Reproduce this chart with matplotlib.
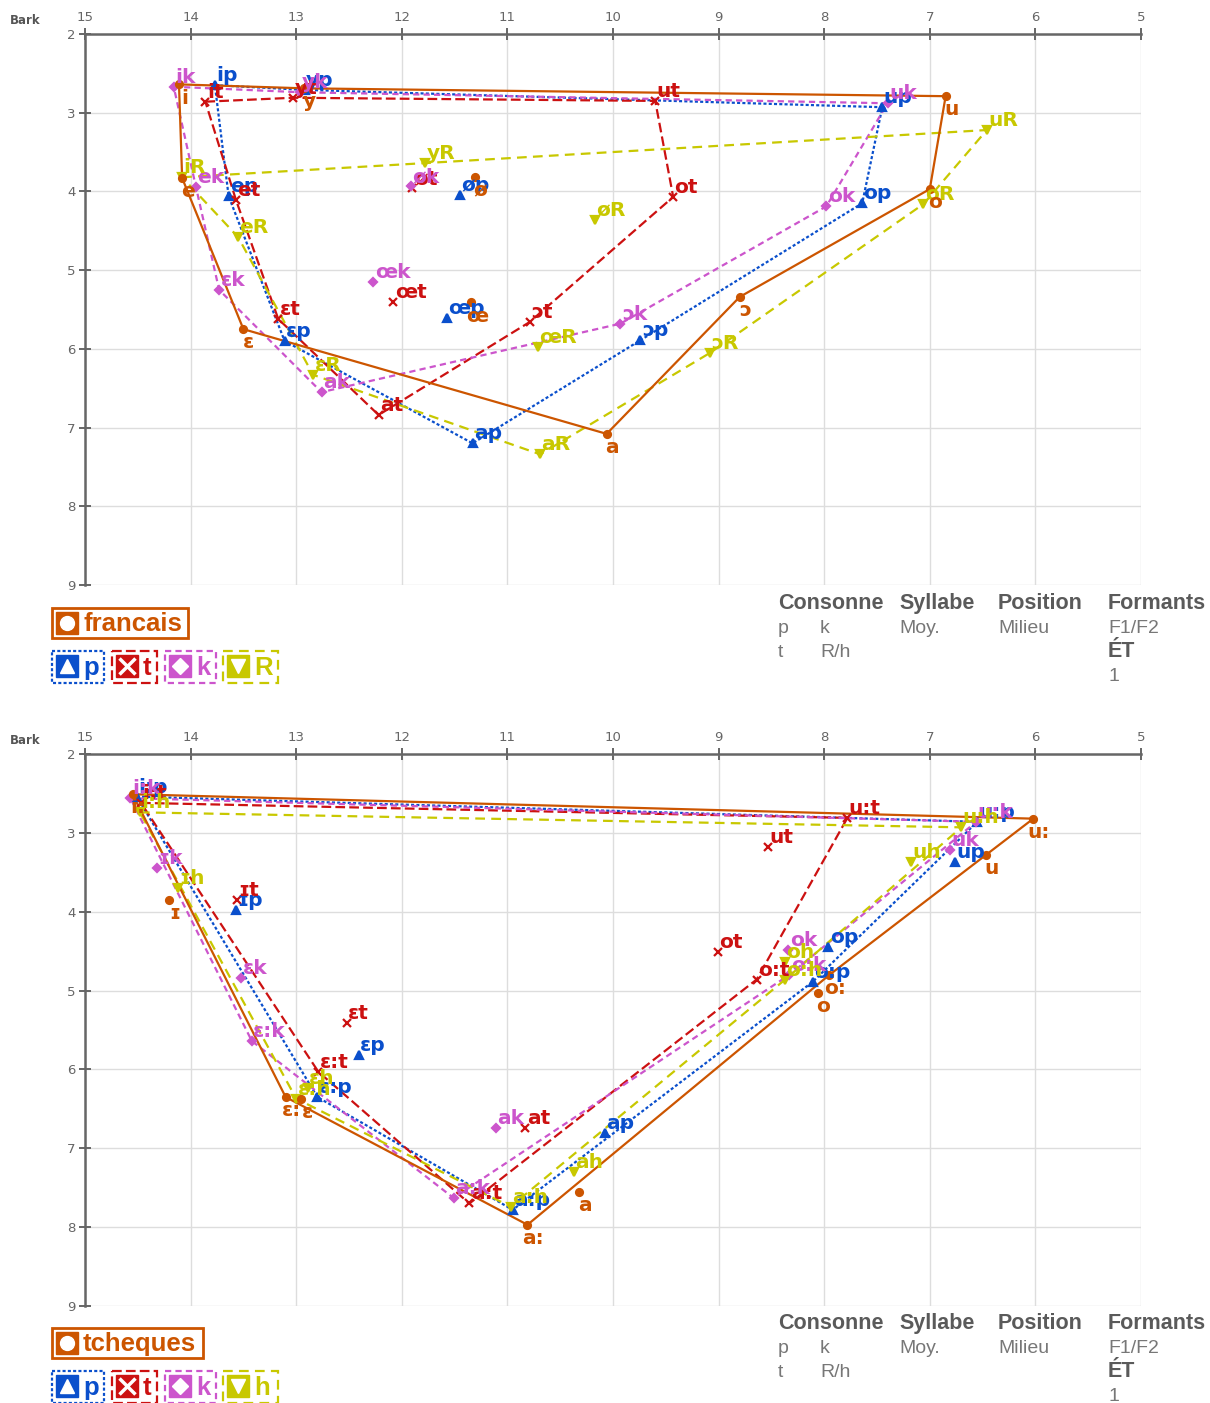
import matplotlib.pyplot as plt
from matplotlib.patches import Rectangle

plt.rcParams['font.family'] = ['DejaVu Sans']
plt.rcParams['lines.scale_dashes'] = False

# ---------- francais (F2 in Bark, F1 in Bark) ----------
fr_vowels = ['i', 'y', 'u', 'e', 'ø', 'o', 'ɛ', 'œ', 'ɔ', 'a']
fr_hull = ['i', 'y', 'u', 'o', 'ɔ', 'a', 'ɛ', 'e', 'i']

fr_f2 = [14.11, 12.93, 6.85, 14.08, 11.31, 7.00, 13.50, 11.34, 8.80, 10.06]
fr_f1 = [2.64, 2.69, 2.79, 3.83, 3.82, 3.97, 5.75, 5.41, 5.34, 7.08]
fr_p_f2 = [13.77, 12.92, 7.45, 13.64, 11.45, 7.64, 13.11, 11.57, 9.74, 11.33]
fr_p_f1 = [2.65, 2.71, 2.93, 4.06, 4.05, 4.15, 5.90, 5.61, 5.89, 7.20]
fr_t_f2 = [13.86, 13.03, 9.60, 13.57, 11.90, 9.43, 13.17, 12.08, 10.79, 12.22]
fr_t_f1 = [2.86, 2.81, 2.85, 4.11, 3.96, 4.07, 5.62, 5.41, 5.66, 6.84]
fr_k_f2 = [14.16, 12.96, 7.40, 13.95, 11.91, 7.98, 13.73, 12.27, 9.93, 12.76]
fr_k_f1 = [2.67, 2.74, 2.88, 3.94, 3.93, 4.19, 5.25, 5.15, 5.68, 6.55]
fr_R_f2 = [14.08, 11.78, 6.46, 13.55, 10.17, 7.06, 12.84, 10.71, 9.08, 10.69]
fr_R_f1 = [3.82, 3.64, 3.22, 4.58, 4.36, 4.16, 6.33, 5.98, 6.05, 7.34]

# ---------- tcheques ----------
cz_vowels = ['i:', 'ɪ', 'ɛ', 'ɛ:', 'a', 'a:', 'o', 'o:', 'u', 'u:']
cz_hull = ['i:', 'u:', 'o:', 'a:', 'ɛ:', 'i:']

cz_f2 = [14.55, 14.20, 12.95, 13.10, 10.32, 10.81, 8.06, 7.95, 6.47, 6.02]
cz_f1 = [2.51, 3.85, 6.37, 6.35, 7.55, 7.97, 5.03, 4.80, 3.28, 2.82]
cz_p_f2 = [14.51, 13.57, 12.41, 12.80, 10.08, 10.95, 7.96, 8.11, 6.76, 6.55]
cz_p_f1 = [2.54, 3.98, 5.82, 6.35, 6.80, 7.78, 4.45, 4.89, 3.37, 2.86]
cz_t_f2 = [14.47, 13.56, 12.52, 12.79, 10.83, 11.36, 9.01, 8.64, 8.53, 7.78]
cz_t_f1 = [2.62, 3.85, 5.41, 6.03, 6.74, 7.70, 4.51, 4.86, 3.18, 2.81]
cz_k_f2 = [14.57, 14.32, 13.52, 13.42, 11.11, 11.51, 8.34, 8.33, 6.81, 6.56]
cz_k_f1 = [2.56, 3.44, 4.84, 5.64, 6.74, 7.63, 4.49, 4.80, 3.22, 2.86]
cz_h_f2 = [14.48, 14.12, 12.89, 13.00, 10.37, 10.97, 8.37, 8.37, 7.18, 6.70]
cz_h_f1 = [2.74, 3.70, 6.23, 6.37, 7.30, 7.74, 4.64, 4.86, 3.37, 2.93]

x_ticks = [15, 14, 13, 12, 11, 10, 9, 8, 7, 6, 5]
y_ticks = [2, 3, 4, 5, 6, 7, 8, 9]

ORANGE = '#cc5500'
BLUE = '#0a4fcc'
RED = '#cc1111'
MAGENTA = '#cc55cc'
YELLOW = '#c8c800'

styles = {
    'base': dict(color=ORANGE, marker='o', ls='-', ms=5),
    'p': dict(color=BLUE, marker='^', ls=(0, (2.2, 1.6)), ms=5.5),
    't': dict(color=RED, marker='x', ls=(0, (7, 3)), ms=6),
    'k': dict(color=MAGENTA, marker='D', ls=(0, (4.5, 3)), ms=4),
    'R': dict(color=YELLOW, marker='v', ls=(0, (7, 4.5)), ms=5.5),
}


def draw_series(ax, vowels, hull, f2, f1, suffix, st):
    pos = dict(zip(vowels, zip(f2, f1)))
    ax.plot([pos[v][0] for v in hull], [pos[v][1] for v in hull],
            color=st['color'], ls=st['ls'], lw=1.6, zorder=2)
    ax.plot(f2, f1, ls='none', marker=st['marker'], color=st['color'],
            ms=st['ms'], mew=1.6, zorder=3)
    for v, x, y in zip(vowels, f2, f1):
        if suffix == '':
            ax.annotate(v, (x, y), xytext=(4, -3), textcoords='offset points',
                        ha='center', va='top', color=st['color'],
                        fontsize=14.5, fontweight='bold', zorder=5)
        else:
            ax.annotate(v + suffix, (x, y), xytext=(1, 0), textcoords='offset points',
                        ha='left', va='bottom', color=st['color'],
                        fontsize=14.5, fontweight='bold', zorder=4)


def setup_axes(ax):
    ax.set_xlim(15, 5)
    ax.set_ylim(9, 2)
    ax.set_xticks(x_ticks)
    ax.set_yticks(y_ticks)
    ax.xaxis.tick_top()
    for s in ['right', 'bottom']:
        ax.spines[s].set_visible(False)
    for s in ['left', 'top']:
        ax.spines[s].set_color('#666666')
        ax.spines[s].set_linewidth(1.8)
    ax.tick_params(direction='inout', length=8, width=1.4, color='#666666',
                   labelsize=9.5, labelcolor='#666666', pad=3)
    ax.grid(color='#dddddd', lw=1)
    ax.set_axisbelow(True)


W, H = 1210, 1403
fig = plt.figure(figsize=(W / 100, H / 100), dpi=100)

ax1 = fig.add_axes([85 / W, 1 - 585 / H, 1056 / W, 551 / H])
ax2 = fig.add_axes([85 / W, 1 - 1306 / H, 1056 / W, 552 / H])
setup_axes(ax1)
setup_axes(ax2)

draw_series(ax1, fr_vowels, fr_hull, fr_p_f2, fr_p_f1, 'p', styles['p'])
draw_series(ax1, fr_vowels, fr_hull, fr_t_f2, fr_t_f1, 't', styles['t'])
draw_series(ax1, fr_vowels, fr_hull, fr_k_f2, fr_k_f1, 'k', styles['k'])
draw_series(ax1, fr_vowels, fr_hull, fr_R_f2, fr_R_f1, 'R', styles['R'])
draw_series(ax1, fr_vowels, fr_hull, fr_f2, fr_f1, '', styles['base'])

draw_series(ax2, cz_vowels, cz_hull, cz_p_f2, cz_p_f1, 'p', styles['p'])
draw_series(ax2, cz_vowels, cz_hull, cz_t_f2, cz_t_f1, 't', styles['t'])
draw_series(ax2, cz_vowels, cz_hull, cz_k_f2, cz_k_f1, 'k', styles['k'])
draw_series(ax2, cz_vowels, cz_hull, cz_h_f2, cz_h_f1, 'h', styles['R'])
draw_series(ax2, cz_vowels, cz_hull, cz_f2, cz_f1, '', styles['base'])

# overlay in pixel coordinates for legends and side text
ov = fig.add_axes([0, 0, 1, 1])
ov.set_xlim(0, W)
ov.set_ylim(H, 0)
ov.axis('off')
ov.patch.set_alpha(0)


def legend_block(y0, lang, fourth):
    ov.text(25, y0 + 20, 'Bark', fontsize=8.5, fontweight='bold', color='#555555',
            ha='center', va='center')
    # language box
    yb = y0 + 608
    wbox = 136 if lang == 'francais' else 151
    ov.add_patch(Rectangle((52, yb), wbox, 30, fill=False, ec=ORANGE, lw=2))
    ov.add_patch(Rectangle((56, yb + 4), 22, 22, color=ORANGE))
    ov.plot(67, yb + 15, 'o', color='white', ms=10)
    ov.text(83, yb + 16, lang, color=ORANGE, fontsize=18.5, fontweight='bold',
            family='Liberation Sans', va='center', ha='left')
    # consonant boxes
    yc = y0 + 651
    boxes = [('p', 52, 52, 'p'), ('t', 112, 45, 't'), ('k', 165, 51, 'k'), ('R', 223, 55, fourth)]
    for key, x, w, lab in boxes:
        st = styles[key]
        ov.add_patch(Rectangle((x, yc), w, 32, fill=False, ec=st['color'], lw=1.6,
                               ls=st['ls']))
        ov.add_patch(Rectangle((x + 4, yc + 4), 22, 22, color=st['color']))
        if key == 't':
            ov.plot(x + 15, yc + 15, 'x', color='white', ms=11, mew=2.5)
        else:
            ov.plot(x + 15, yc + 15, st['marker'], color='white',
                    ms=8 if key == 'k' else 10)
        ov.text(x + 31, yc + 17, lab, color=st['color'], fontsize=18.5, fontweight='bold',
                family='Liberation Sans', va='center', ha='left')
    # side text
    yt = y0 + 609
    for x, t in [(778, 'Consonne'), (899, 'Syllabe'), (998, 'Position'), (1108, 'Formants')]:
        ov.text(x, yt, t, fontsize=15.5, fontweight='bold', color='#5a5a5a',
                family='Liberation Sans', va='baseline')
    for x, t in [(778, 'p'), (820, 'k'), (899, 'Moy.'), (998, 'Milieu'), (1108, 'F1/F2')]:
        ov.text(x, yt + 24, t, fontsize=14, color='#777777', family='Liberation Sans',
                va='baseline')
    for x, t in [(778, 't'), (820, 'R/h')]:
        ov.text(x, yt + 48, t, fontsize=14, color='#777777', family='Liberation Sans',
                va='baseline')
    ov.text(1108, yt + 48, 'ÉT', fontsize=15.5, fontweight='bold', color='#5a5a5a',
            family='Liberation Sans', va='baseline')
    ov.text(1108, yt + 72, '1', fontsize=14, color='#777777', family='Liberation Sans',
            va='baseline')


legend_block(0, 'francais', 'R')
legend_block(720, 'tcheques', 'h')

fig.savefig('out.png', dpi=100)
